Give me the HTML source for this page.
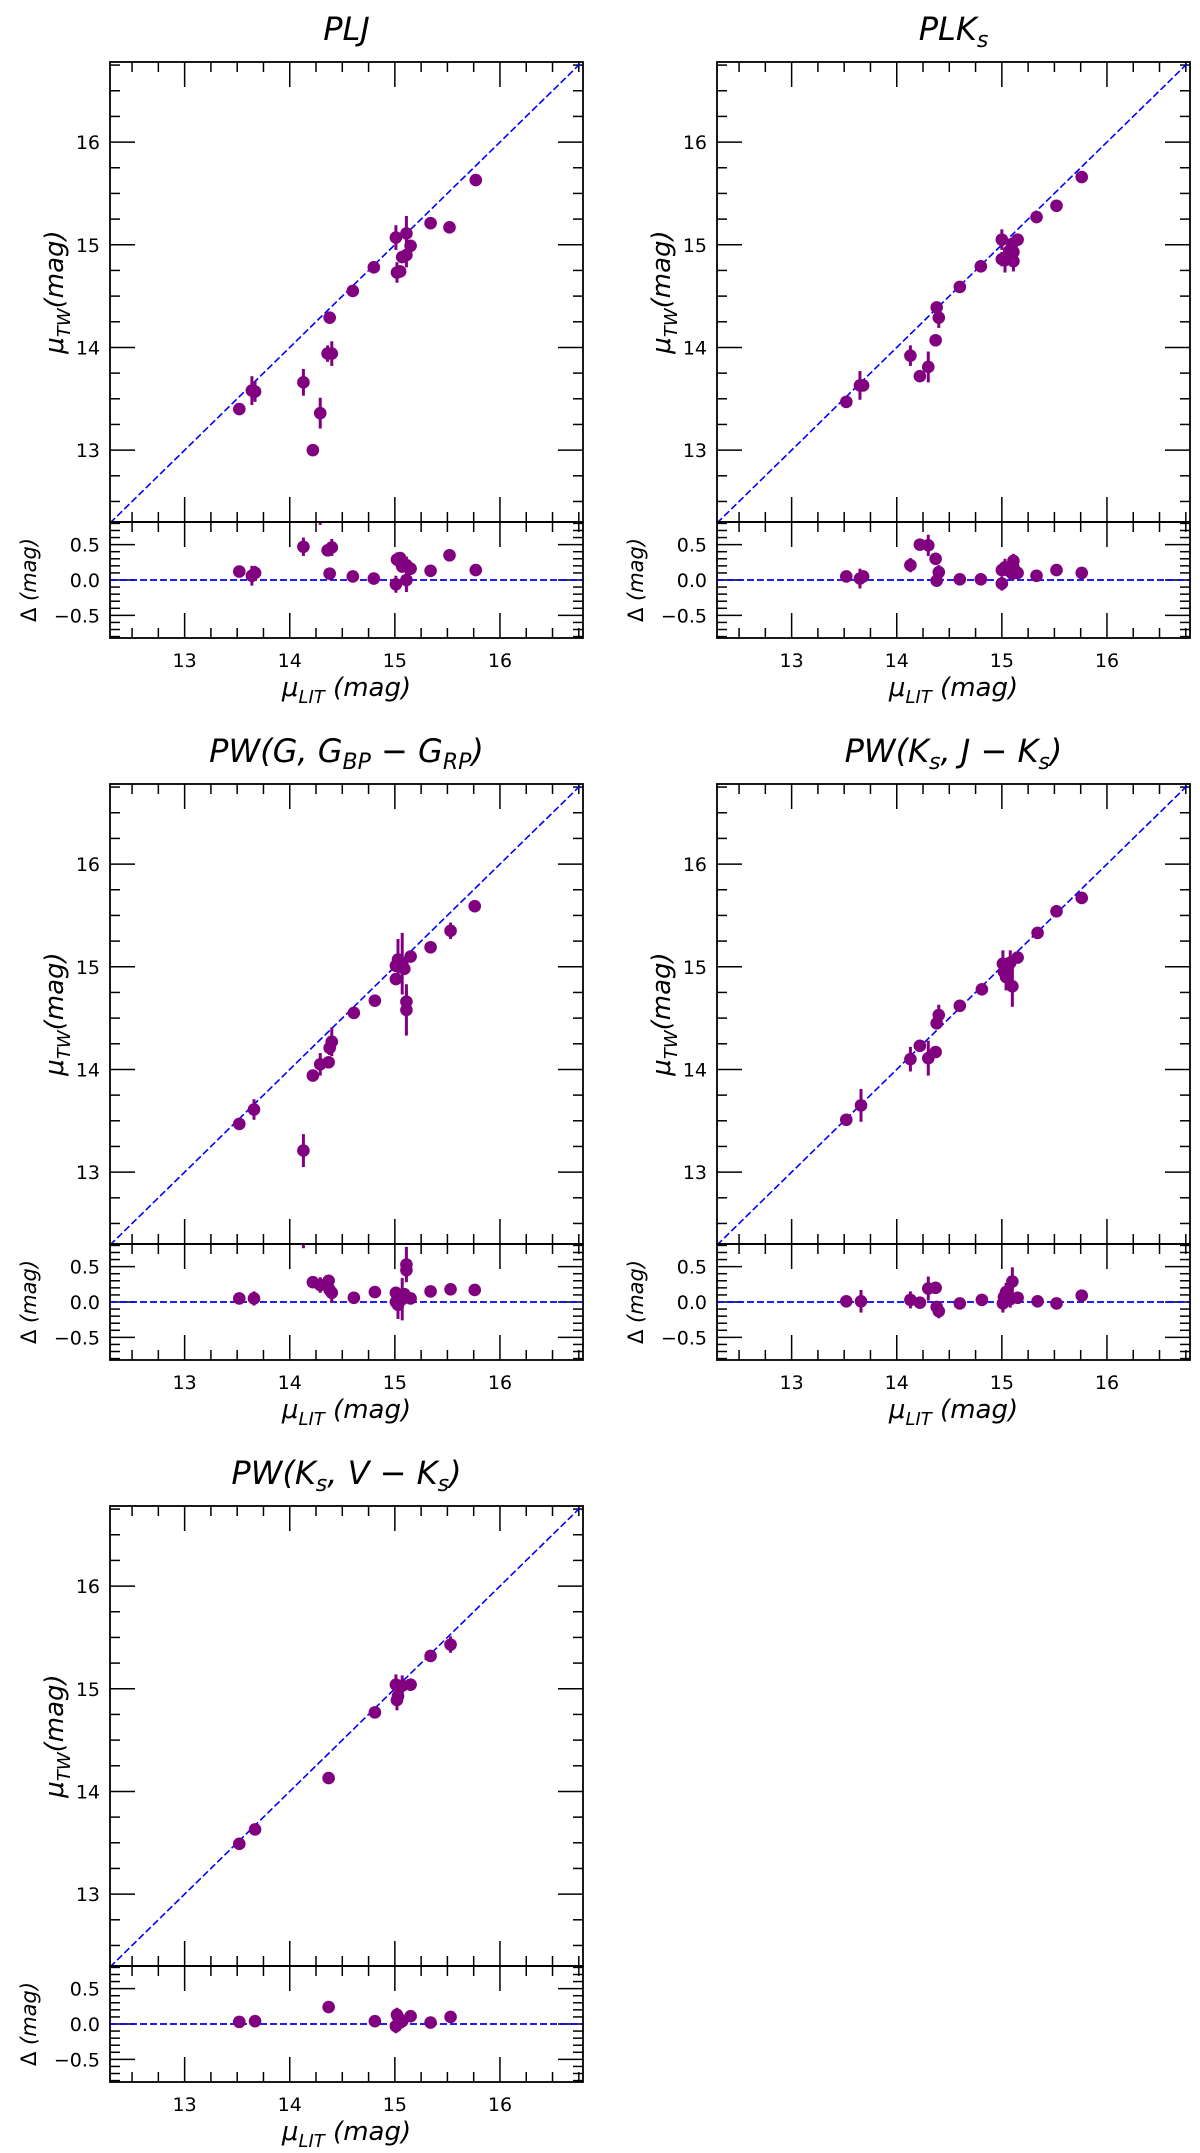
<!DOCTYPE html>
<html><head><meta charset="utf-8"><style>
html,body{margin:0;padding:0;background:#fff;}
svg{display:block;font-family:"DejaVu Sans","Liberation Sans",sans-serif;}
</style></head><body>
<svg id="fig" width="1200" height="2153" viewBox="0 0 1200 2153" xmlns="http://www.w3.org/2000/svg"></svg>
<script>
// ---- data (LIT vs TW distance moduli, error bars) ----
const pljLit = [13.52,13.64,13.67,14.13,14.22,14.29,14.38,14.36,14.40,14.60,14.80,15.01,15.02,15.05,15.07,15.11,15.11,15.15,15.34,15.52,15.77];
const pljTw  = [13.40,13.58,13.57,13.66,13.00,13.36,14.29,13.94,13.94,14.55,14.78,15.07,14.73,14.74,14.88,15.11,14.90,14.99,15.21,15.17,15.63];
const pljErr = [0.03,0.14,0.10,0.13,0.02,0.15,0.03,0.08,0.12,0.03,0.03,0.12,0.10,0.06,0.05,0.17,0.12,0.03,0.05,0.02,0.02];

const plkLit = [13.52,13.65,13.68,14.13,14.22,14.30,14.37,14.38,14.40,14.60,14.80,15.00,15.00,15.03,15.07,15.10,15.11,15.11,15.15,15.33,15.52,15.76];
const plkTw  = [13.47,13.63,13.63,13.92,13.72,13.81,14.07,14.39,14.29,14.59,14.79,15.05,14.86,14.85,14.94,15.01,14.84,14.93,15.05,15.27,15.38,15.66];
const plkErr = [0.02,0.14,0.05,0.10,0.02,0.15,0.02,0.03,0.10,0.02,0.02,0.10,0.07,0.12,0.05,0.06,0.10,0.05,0.03,0.03,0.04,0.02];

const pwgLit = [13.52,13.66,14.13,14.22,14.29,14.37,14.38,14.40,14.61,14.81,15.01,15.01,15.03,15.07,15.09,15.11,15.11,15.15,15.34,15.53,15.76];
const pwgTw  = [13.47,13.61,13.21,13.94,14.05,14.07,14.21,14.27,14.55,14.67,15.01,14.88,15.07,15.03,14.98,14.66,14.58,15.10,15.19,15.35,15.59];
const pwgErr = [0.02,0.10,0.16,0.03,0.11,0.03,0.07,0.14,0.05,0.03,0.03,0.04,0.20,0.30,0.04,0.10,0.25,0.03,0.02,0.08,0.04];

const pwjLit = [13.52,13.66,14.13,14.22,14.30,14.37,14.38,14.40,14.60,14.81,15.01,15.02,15.04,15.08,15.10,15.15,15.34,15.52,15.76];
const pwjTw  = [13.51,13.65,14.10,14.23,14.11,14.17,14.45,14.53,14.62,14.78,15.03,14.95,14.90,15.04,14.81,15.09,15.33,15.54,15.67];
const pwjErr = [0.02,0.16,0.12,0.03,0.17,0.03,0.04,0.10,0.03,0.02,0.13,0.06,0.13,0.12,0.20,0.03,0.03,0.06,0.02];

const pwvLit = [13.52,13.67,14.37,14.81,15.01,15.02,15.03,15.07,15.15,15.34,15.53];
const pwvTw  = [13.49,13.63,14.13,14.77,15.04,14.89,14.93,15.03,15.04,15.32,15.43];
const pwvErr = [0.02,0.02,0.02,0.02,0.10,0.10,0.04,0.10,0.03,0.03,0.08];

const xTicks = [13,14,15,16];
const yTicks = [13,14,15,16];
const resTicks = [-0.5,0.0,0.5];
const resTickLabels = ["\u22120.5","0.0","0.5"];

const NS = "http://www.w3.org/2000/svg";
const svg = document.getElementById('fig');
const XMIN=12.29, XMAX=16.79, YMIN=12.30, YMAX=16.78, RMIN=-0.82, RMAX=0.82;
const W=473, HM=460, HR=116;
const PURPLE="#800080", BLUE="#0000ff";

function mk(tag, attrs, parent){
  const e=document.createElementNS(NS,tag);
  for(const k in attrs) e.setAttribute(k,attrs[k]);
  (parent||svg).appendChild(e);
  return e;
}

const panels = [
  {key:"plj", x0:110, y0:62, lit:pljLit, tw:pljTw, err:pljErr, title:[["PLJ",""]]},
  {key:"plks", x0:717, y0:62, lit:plkLit, tw:plkTw, err:plkErr, title:[["PLK",""],["s","sub"]]},
  {key:"pw-g", x0:110, y0:784, lit:pwgLit, tw:pwgTw, err:pwgErr, title:[["PW(G, G",""],["BP","sub"],[" \u2212 G",""],["RP","sub"],[")",""]]},
  {key:"pw-ks-j", x0:717, y0:784, lit:pwjLit, tw:pwjTw, err:pwjErr, title:[["PW(K",""],["s","sub"],[", J \u2212 K",""],["s","sub"],[")",""]]},
  {key:"pw-ks-v", x0:110, y0:1506, lit:pwvLit, tw:pwvTw, err:pwvErr, title:[["PW(K",""],["s","sub"],[", V \u2212 K",""],["s","sub"],[")",""]]}
];

function richText(parent, parts, attrs, subSize){
  const t=mk('text',attrs,parent);
  let prevSub=false;
  parts.forEach(p=>{
    const s=document.createElementNS(NS,'tspan');
    s.textContent=p[0];
    if(p[1]==='sub'){ s.setAttribute('dy','7'); s.setAttribute('font-size',subSize); prevSub=true; }
    else if(prevSub){ s.setAttribute('dy','-7'); prevSub=false; }
    t.appendChild(s);
  });
  return t;
}

panels.forEach((p,pi)=>{
  const g=mk('g',{});
  
  
  const sx=v=>p.x0+(v-XMIN)/(XMAX-XMIN)*W;
  const sy=v=>p.y0+(YMAX-v)/(YMAX-YMIN)*HM;
  const ry0=p.y0+HM;
  const sr=v=>ry0+(RMAX-v)/(RMAX-RMIN)*HR;

  // clip paths
  const defs=mk('defs',{},g);
  const cm=mk('clipPath',{id:'cm'+pi},defs); mk('rect',{x:p.x0,y:p.y0,width:W,height:HM},cm);
  const cr=mk('clipPath',{id:'cr'+pi},defs); mk('rect',{x:p.x0,y:ry0,width:W,height:HR},cr);

  // title
  const tt=richText(g,p.title,{x:p.x0+W/2,y:p.y0-22,'text-anchor':'middle','font-size':32,'font-style':'italic'},22);
  
  

  // ticks main
  const tk=mk('g',{stroke:'#000','stroke-width':1.5},g);
  
  
  for(let v=12.5; v<=16.76; v+=0.25){
    const x=sx(v); const major=Math.abs(v-Math.round(v))<1e-6;
    const L=major?25:10;
    mk('line',{x1:x,y1:p.y0,x2:x,y2:p.y0+L},tk);
    mk('line',{x1:x,y1:ry0,x2:x,y2:ry0-L},tk);
    mk('line',{x1:x,y1:ry0,x2:x,y2:ry0+L},tk);
    mk('line',{x1:x,y1:ry0+HR,x2:x,y2:ry0+HR-L},tk);
  }
  for(let v=12.5; v<=16.76; v+=0.25){
    const y=sy(v); const major=Math.abs(v-Math.round(v))<1e-6;
    const L=major?25:10;
    mk('line',{x1:p.x0,y1:y,x2:p.x0+L,y2:y},tk);
    mk('line',{x1:p.x0+W,y1:y,x2:p.x0+W-L,y2:y},tk);
  }
  for(let i=-8;i<=8;i++){
    const v=i/10; const y=sr(v); const major=(i%5===0);
    const L=major?25:10;
    mk('line',{x1:p.x0,y1:y,x2:p.x0+L,y2:y},tk);
    mk('line',{x1:p.x0+W,y1:y,x2:p.x0+W-L,y2:y},tk);
  }

  // tick labels
  yTicks.forEach(v=>{
    const t=mk('text',{x:p.x0-10,y:sy(v)+7,'text-anchor':'end','font-size':19},g);
    t.textContent=String(v);
    
    
  });
  resTicks.forEach((v,i)=>{
    const t=mk('text',{x:p.x0-10,y:sr(v)+7,'text-anchor':'end','font-size':19},g);
    t.textContent=resTickLabels[i];
    
    
  });
  xTicks.forEach(v=>{
    const t=mk('text',{x:sx(v),y:ry0+HR+29,'text-anchor':'middle','font-size':19},g);
    t.textContent=String(v);
    
    
  });

  // axis labels
  const yl=richText(g,[["\u03bc",""],["TW","sub"],["(mag)",""]],{transform:`translate(${p.x0-47},${p.y0+HM/2}) rotate(-90)`,'text-anchor':'middle','font-size':26,'font-style':'italic'},18);
  
  
  const rl=mk('text',{transform:`translate(${p.x0-74},${ry0+HR/2}) rotate(-90)`,'text-anchor':'middle','font-size':21},g);
  rl.innerHTML='\u0394 <tspan font-style="italic">(mag)</tspan>';
  
  
  const xl=richText(g,[["\u03bc",""],["LIT","sub"],[" (mag)",""]],{x:p.x0+W/2,y:ry0+HR+58,'text-anchor':'middle','font-size':26,'font-style':'italic'},18);
  
  

  // one-to-one line
  const dl=mk('line',{x1:sx(XMIN),y1:sy(XMIN),x2:sx(XMAX),y2:sy(XMAX),stroke:BLUE,'stroke-width':1.6,'stroke-dasharray':'7,3','clip-path':`url(#cm${pi})`},g);
  
  
  const zl=mk('line',{x1:p.x0,y1:sr(0),x2:p.x0+W,y2:sr(0),stroke:BLUE,'stroke-width':1.8,'stroke-dasharray':'7,3'},g);
  
  

  // points
  const gm=mk('g',{'clip-path':`url(#cm${pi})`},g);
  const gr=mk('g',{'clip-path':`url(#cr${pi})`},g);
  p.lit.forEach((lv,i)=>{
    const tv=p.tw[i], ev=p.err[i], dv=lv-tv;
    const x=sx(lv);
    const eb=mk('line',{x1:x,y1:sy(tv-ev),x2:x,y2:sy(tv+ev),stroke:PURPLE,'stroke-width':3},gm);
    
    
    const c=mk('circle',{cx:x,cy:sy(tv),r:6.3,fill:PURPLE},gm);
    
    
    const eb2=mk('line',{x1:x,y1:sr(dv-ev),x2:x,y2:sr(dv+ev),stroke:PURPLE,'stroke-width':3},gr);
    
    
    const c2=mk('circle',{cx:x,cy:sr(dv),r:6.3,fill:PURPLE},gr);
    
    
  });

  // frames
  const f1=mk('rect',{x:p.x0,y:p.y0,width:W,height:HM,fill:'none',stroke:'#000','stroke-width':1.8},g);
  
  
  const f2=mk('rect',{x:p.x0,y:ry0,width:W,height:HR,fill:'none',stroke:'#000','stroke-width':1.8},g);
  
  
});
</script>
</body></html>
